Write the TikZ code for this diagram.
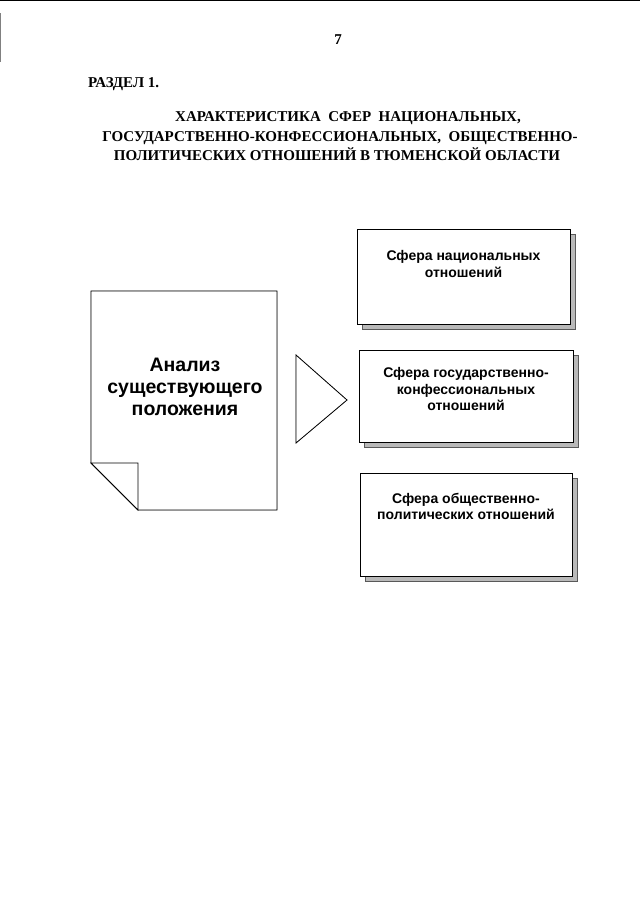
\documentclass[tikz,border=0pt]{standalone}
\usepackage{fontspec}
\setmainfont{Liberation Serif}
\setsansfont{Liberation Sans}
\usetikzlibrary{positioning}
\tikzset{
    % рамки сфер
    spherebox/.style={
        draw=black,
        line width=0.8pt,
        fill=white,
        minimum width=213pt,
        minimum height=95pt,
        inner sep=0pt
    },
    shadowfill/.style={
        fill=gray!55,
        draw=gray!70!black,
        line width=0.4pt
    },
    spheretext/.style={
        font=\sffamily\bfseries\fontsize{14}{16.5}\selectfont,
        align=center,
        inner sep=0pt,
        anchor=north
    },
    headtext/.style={
        font=\bfseries\fontsize{15}{19.5}\selectfont,
        inner sep=0pt,
        anchor=base
    }
}

\begin{document}
\begin{tikzpicture}[x=1pt,y=-1pt]
   \useasboundingbox (0,0) rectangle (640,905);
   \path
    (91,291)  coordinate (d1)
    (277,291) coordinate (d2)
    (277,510) coordinate (d3)
    (138,510) coordinate (d4)
    (91,463)  coordinate (d5)
    (138,463) coordinate (d6)
    (296,355) coordinate (t1)
    (347,400) coordinate (t2)
    (296,443) coordinate (t3)
    ;

   % край листа
   \draw[line width=0.6pt] (0,0.5) -- (640,0.5);
   \draw[gray,line width=0.8pt] (0.5,13) -- (0.5,62);

   % заголовок
   \node[headtext] (page) at (338,44) {7};
   \node[headtext,anchor=base west] (razdel) at (88,87) {РАЗДЕЛ 1.};
   \node[headtext] (title1) at (348,121) {ХАРАКТЕРИСТИКА\ \ СФЕР\ \ НАЦИОНАЛЬНЫХ,};
   \node[headtext] (title2) at (340,141) {ГОСУДАРСТВЕННО-КОНФЕССИОНАЛЬНЫХ,\ \ ОБЩЕСТВЕННО-};
   \node[headtext] (title3) at (337,160) {ПОЛИТИЧЕСКИХ ОТНОШЕНИЙ В ТЮМЕНСКОЙ ОБЛАСТИ};

   % лист с загнутым углом
   \draw[shadowfill,shift={(4,4)}] (d1) -- (d2) -- (d3) -- (d4) -- (d5) -- cycle;
   \draw[line width=0.8pt,fill=white] (d1) -- (d2) -- (d3) -- (d4) -- (d5) -- cycle;
   \draw[line width=0.8pt,fill=white] (d5) -- (d6) -- (d4) -- cycle;
   \node[font=\sffamily\bfseries\fontsize{19.5}{22}\selectfont,align=center,inner sep=0pt,anchor=base]
      (analiz) at (185,415) {Анализ\\существующего\\положения};

   % стрелка
   \draw[shadowfill,shift={(5,5)}] (t1) -- (t2) -- (t3) -- cycle;
   \draw[line width=0.8pt,fill=white] (t1) -- (t2) -- (t3) -- cycle;

   % сферы
   \draw[shadowfill] (362,234) rectangle (575,329);
   \node[spherebox] (nat) at (463.5,276.5) {};
   \node[spheretext,below=22pt of nat.north] (natT) {Сфера национальных\\отношений};

   \draw[shadowfill] (364,355) rectangle (578,447);
   \node[spherebox,minimum width=214pt,minimum height=92pt] (gos) at (466,396) {};
   \node[spheretext,below=18pt of gos.north] (gosT) {Сфера государственно-\\конфессиональных\\отношений};

   \draw[shadowfill] (365,478) rectangle (577,581);
   \node[spherebox,minimum width=212pt,minimum height=103pt] (obsh) at (466,524.5) {};
   \node[spheretext,below=20pt of obsh.north] (obshT) {Сфера общественно-\\политических отношений};

\end{tikzpicture}
\end{document}
